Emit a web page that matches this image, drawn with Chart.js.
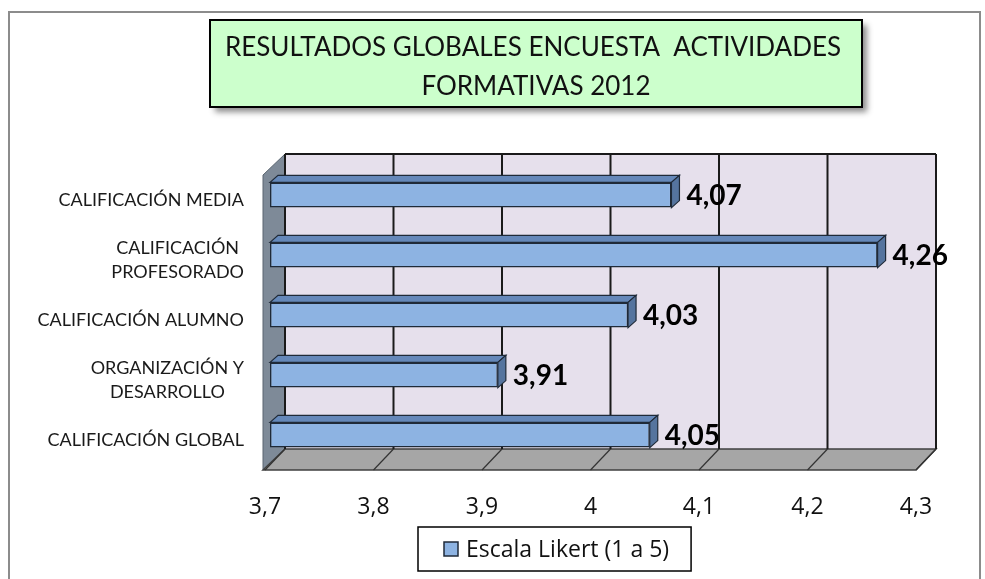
<!DOCTYPE html>
<html>
<head>
<meta charset="utf-8">
<script src="https://cdn.jsdelivr.net/npm/chart.js@4"></script>
<style>
  html, body { margin: 0; padding: 0; background: #fff; }
  #wrap { width: 985px; height: 579px; }
</style>
</head>
<body>
<div id="wrap"><canvas id="myChart" width="985" height="579"></canvas></div>
<script>
const categories = [
    'CALIFICACIÓN MEDIA',
    ['CALIFICACIÓN', 'PROFESORADO'],
    'CALIFICACIÓN ALUMNO',
    ['ORGANIZACIÓN Y', 'DESARROLLO'],
    'CALIFICACIÓN GLOBAL'
];
const likertValues = [4.07, 4.26, 4.03, 3.91, 4.05];
const seriesName = 'Escala Likert (1 a 5)';
const titleLines = ['RESULTADOS GLOBALES ENCUESTA  ACTIVIDADES', 'FORMATIVAS 2012'];
const axisMin = 3.7;
const axisMax = 4.3;
const axisStep = 0.1;

const ctx = document.getElementById('myChart').getContext('2d');

// depth of the 3d box and of the bars
const DX = 20, DY = 21;
const BAR_SHIFT = 5;
const BDX = 8, BDY = 7;

function fmt(v) {
    return String(Number(v.toFixed(2))).replace('.', ',');
}

function poly(c, pts, fill, stroke, lw) {
    c.beginPath();
    c.moveTo(pts[0][0], pts[0][1]);
    for (let i = 1; i < pts.length; i++) c.lineTo(pts[i][0], pts[i][1]);
    c.closePath();
    if (fill) { c.fillStyle = fill; c.fill(); }
    if (stroke) { c.strokeStyle = stroke; c.lineWidth = lw || 1; c.stroke(); }
}

const box3d = {
    id: 'box3d',
    beforeDraw(chart) {
        const c = chart.ctx;
        c.save();
        // outer frame
        c.strokeStyle = '#8c8c8c';
        c.lineWidth = 2;
        c.strokeRect(9, 12, 971, 600);

        // title box
        c.shadowColor = 'rgba(0,0,0,0.45)';
        c.shadowBlur = 6;
        c.shadowOffsetX = 5;
        c.shadowOffsetY = 5;
        c.fillStyle = '#ccffcc';
        c.fillRect(210, 20, 652, 87);
        c.shadowColor = 'transparent';
        c.strokeStyle = '#000';
        c.lineWidth = 2;
        c.strokeRect(210, 20, 652, 87);
        c.fillStyle = '#111';
        c.font = '26px Lato';
        c.textAlign = 'center';
        c.textBaseline = 'middle';
        c.fillText(titleLines[0], 533, 48);
        c.fillText(titleLines[1], 536, 87);
        c.restore();
    },
    beforeDatasetsDraw(chart) {
        const c = chart.ctx;
        const a = chart.chartArea;
        const xs = chart.scales.x;
        const wallTop = a.top - 16;
        c.save();
        // back wall
        poly(c, [[a.left + DX, wallTop], [a.right + DX, wallTop], [a.right + DX, a.bottom - DY], [a.left + DX, a.bottom - DY]], '#e6e0ec');
        // left wall
        poly(c, [[a.left - 2, wallTop + DY], [a.left + DX, wallTop], [a.left + DX, a.bottom - DY], [a.left - 2, a.bottom]], '#7e8a98', '#5a6570', 1);
        // floor
        poly(c, [[a.left - 2, a.bottom], [a.left + DX, a.bottom - DY], [a.right + DX, a.bottom - DY], [a.right, a.bottom]], '#a6a6a6', '#404040', 1.5);
        // grid lines on the back wall and floor
        xs.ticks.forEach(t => {
            const px = xs.getPixelForValue(t.value);
            c.strokeStyle = '#1a1a1a';
            c.lineWidth = 2;
            c.beginPath();
            c.moveTo(px + DX, wallTop);
            c.lineTo(px + DX, a.bottom - DY);
            c.stroke();
            c.lineWidth = 1.2;
            c.strokeStyle = '#333';
            c.beginPath();
            c.moveTo(px, a.bottom);
            c.lineTo(px + DX, a.bottom - DY);
            c.stroke();
        });
        // top edge of back wall
        c.strokeStyle = '#1a1a1a';
        c.lineWidth = 2;
        c.beginPath();
        c.moveTo(a.left + DX, wallTop);
        c.lineTo(a.right + DX, wallTop);
        c.stroke();
        c.restore();

        c.save();
        c.translate(BAR_SHIFT, -BAR_SHIFT);
    },
    afterDatasetsDraw(chart) {
        const c = chart.ctx;
        const meta = chart.getDatasetMeta(0);
        meta.data.forEach((bar, i) => {
            const p = bar.getProps(['x', 'y', 'base', 'height']);
            const top = p.y - p.height / 2;
            const bot = p.y + p.height / 2;
            poly(c, [[p.base, top], [p.base + BDX, top - BDY], [p.x + BDX, top - BDY], [p.x, top]], '#6588b9', '#1f2a38', 1.2);
            poly(c, [[p.x, top], [p.x + BDX, top - BDY], [p.x + BDX, bot - BDY], [p.x, bot]], '#55749e', '#1f2a38', 1.2);
            c.fillStyle = '#000';
            c.font = 'bold 28px Lato';
            c.textAlign = 'left';
            c.textBaseline = 'middle';
            c.fillText(fmt(likertValues[i]), p.x + BDX + 7, p.y + 1);
        });
        c.restore();
    },
    afterDraw(chart) {
        const c = chart.ctx;
        const ys = chart.scales.y;
        c.save();
        // category labels, block right aligned, lines centred
        c.font = '18px Lato';
        c.fillStyle = '#1a1a1a';
        c.textAlign = 'center';
        c.textBaseline = 'middle';
        categories.forEach((lab, i) => {
            const lines = Array.isArray(lab) ? lab : [lab];
            const w = Math.max(...lines.map(l => c.measureText(l).width));
            const cx = 244 - w / 2;
            const cy = ys.getPixelForValue(i);
            const lh = 24;
            lines.forEach((l, k) => {
                c.fillText(l, cx, cy + (k - (lines.length - 1) / 2) * lh);
            });
        });

        // legend
        c.font = '23px "Open Sans"';
        const tw = c.measureText(seriesName).width;
        const bx = 418, by = 527, bh = 44;
        const bw = 26 + 14 + 8 + tw + 22;
        c.fillStyle = '#fff';
        c.fillRect(bx, by, bw, bh);
        c.strokeStyle = '#000';
        c.lineWidth = 1.5;
        c.strokeRect(bx, by, bw, bh);
        c.fillStyle = '#8db3e2';
        c.fillRect(bx + 26, by + 15, 14, 14);
        c.strokeStyle = '#1f2a38';
        c.lineWidth = 1.5;
        c.strokeRect(bx + 26, by + 15, 14, 14);
        c.fillStyle = '#111';
        c.textAlign = 'left';
        c.fillText(seriesName, bx + 48, by + bh / 2 + 1);
        c.restore();
    }
};

new Chart(ctx, {
    type: 'bar',
    data: {
        labels: categories,
        datasets: [{
            label: seriesName,
            data: likertValues,
            base: axisMin,
            backgroundColor: '#8db3e2',
            borderColor: '#1f2a38',
            borderWidth: 1.5,
            borderSkipped: false,
            barPercentage: 0.42,
            categoryPercentage: 1,
            clip: false
        }]
    },
    options: {
        indexAxis: 'y',
        responsive: false,
        animation: false,
        devicePixelRatio: 1,
        layout: { padding: { left: 265, right: 69, top: 170, bottom: 0 } },
        plugins: {
            legend: { display: false },
            title: { display: false },
            tooltip: { enabled: false }
        },
        scales: {
            x: {
                type: 'linear',
                min: axisMin,
                max: axisMax,
                grid: { display: false, drawTicks: false },
                border: { display: false },
                ticks: {
                    stepSize: axisStep,
                    padding: 24,
                    color: '#111',
                    font: { family: 'Open Sans', size: 23 },
                    callback: v => fmt(v)
                },
                afterFit: scale => { scale.height = 109; }
            },
            y: {
                display: false
            }
        }
    },
    plugins: [box3d]
});
</script>
</body>
</html>
